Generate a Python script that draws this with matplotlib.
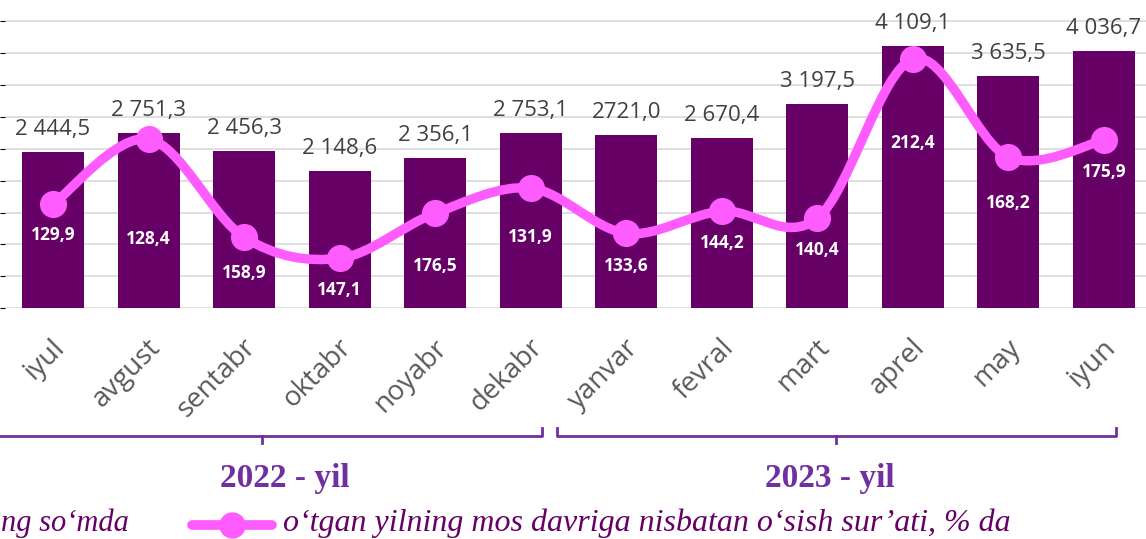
import matplotlib
matplotlib.use("Agg")
import matplotlib.pyplot as plt
import matplotlib.transforms as mtransforms
from matplotlib.path import Path
from matplotlib.patches import PathPatch
from matplotlib.lines import Line2D
import numpy as np

# ---------- data ----------
months = ["iyul", "avgust", "sentabr", "oktabr", "noyabr", "dekabr",
          "yanvar", "fevral", "mart", "aprel", "may", "iyun"]
volume = [2444.5, 2751.3, 2456.3, 2148.6, 2356.1, 2753.1,
          2721.0, 2670.4, 3197.5, 4109.1, 3635.5, 4036.7]
volume_labels = ["2 444,5", "2 751,3", "2 456,3", "2 148,6", "2 356,1", "2 753,1",
                 "2721,0", "2 670,4", "3 197,5", "4 109,1", "3 635,5", "4 036,7"]
# growth line as drawn on its own (hidden) right axis
growth = [120.8, 158.8, 101.5, 89.2, 115.5, 130.1,
          103.8, 116.7, 112.6, 205.5, 148.3, 158.2]
growth_labels = ["129,9", "128,4", "158,9", "147,1", "176,5", "131,9",
                 "133,6", "144,2", "140,4", "212,4", "168,2", "175,9"]
# where the white labels sit, in right-axis units
growth_label_y = [102.7, 100.3, 80.5, 70.5, 84.6, 101.5,
                  84.6, 98.0, 93.9, 156.5, 121.6, 139.5]
years = ["2022 - yil", "2023 - yil"]

bar_col = "#660066"
line_col = "#FF5CFF"
purple = "#7030A0"

fig = plt.figure(figsize=(11.46, 5.39), dpi=100)
W, H = 1146, 539
ax = fig.add_axes([5.25 / W, (H - 308.3) / H, 1146.5 / W, 308.3 / H])
x = np.arange(len(months))

ax.bar(x, volume, width=0.65, color=bar_col, zorder=2)
ax.set_xlim(-0.5, 11.5)
ax.set_ylim(0, 4829)
ax.set_yticks(np.arange(0, 4501, 500))
ax.yaxis.grid(True, color="#D9D9D9", linewidth=1.2, zorder=0)
ax.set_axisbelow(True)
ax.tick_params(left=False, bottom=False, labelleft=False, labelbottom=False)
for s in ax.spines.values():
    s.set_visible(False)

# value labels above bars
above = mtransforms.offset_copy(ax.transData, fig=fig, x=0, y=17, units="dots")
for xi, v, lab in zip(x, volume, volume_labels):
    ax.text(xi, v, lab, transform=above, ha="center", va="baseline",
            fontsize=16, color="#404040", family="Open Sans", clip_on=False)

# month labels, rotated
below = mtransforms.offset_copy(ax.transData, fig=fig, x=8, y=-35, units="dots")
for xi, m in zip(x, months):
    ax.text(xi, 0, m, transform=below, rotation=45, rotation_mode="anchor",
            ha="right", va="center", fontsize=20, color="#595959",
            family="Open Sans", clip_on=False)

# growth line on a hidden secondary axis, smoothed like the office chart
ax2 = ax.twinx()
ax2.set_ylim(60, 240)
ax2.axis("off")
pts = np.column_stack([x, growth]).astype(float)
ext = np.vstack([pts[0], pts, pts[-1]])
verts = [pts[0]]
codes = [Path.MOVETO]
for i in range(len(pts) - 1):
    p0, p1, p2, p3 = ext[i], ext[i + 1], ext[i + 2], ext[i + 3]
    verts += [p1 + (p2 - p0) / 6, p2 - (p3 - p1) / 6, p2]
    codes += [Path.CURVE4] * 3
ax2.add_patch(PathPatch(Path(verts, codes), facecolor="none", edgecolor=line_col,
                        linewidth=6.8, capstyle="round", joinstyle="round", zorder=3))
ax2.plot(x, growth, linestyle="none", marker="o", markersize=18.5,
         color=line_col, zorder=4)
for xi, yl, lab in zip(x, growth_label_y, growth_labels):
    ax2.text(xi, yl, lab, ha="center", va="center", fontsize=12.5,
             fontweight="bold", color="white", family="Open Sans", zorder=5)

# year brackets under the months
btr = mtransforms.blended_transform_factory(ax.transData, fig.transFigure)
yb, yh, yt = 1 - 436 / H, 1 - 428 / H, 1 - 443 / H
brackets = [(-1.0, 5.12, 2.19), (5.28, 11.13, 8.20)]
for (x0, x1, xm), lab in zip(brackets, years):
    ax.add_line(Line2D([x0, x0, x1, x1], [yh, yb, yb, yh], transform=btr,
                       color=purple, linewidth=2.0, solid_joinstyle="round",
                       clip_on=False))
    ax.add_line(Line2D([xm, xm], [yb, yt], transform=btr, color=purple,
                       linewidth=2.0, clip_on=False))
year_x = [2.43, 8.13]
for xx, lab in zip(year_x, years):
    ax.text(xx, 1 - 478 / H, lab, transform=btr, ha="center", va="center",
            fontsize=24, fontweight="bold", color=purple,
            family="Liberation Serif", clip_on=False)

# legend (left item is cut off by the frame in the source)
ly = 1 - 525 / H
base = 1 - 531 / H
fig.text(1 / W, base, "ng so\u2018mda", ha="left", va="baseline",
         fontsize=22, style="italic", color=bar_col, family="Liberation Serif")
fig.add_artist(Line2D([192 / W, 272 / W], [ly, ly], color=line_col,
                      linewidth=7, solid_capstyle="round"))
fig.add_artist(Line2D([232 / W], [ly], color=line_col, marker="o",
                      markersize=18, linestyle="none"))
fig.text(283 / W, base,
         "o\u2018tgan yilning mos davriga nisbatan o\u2018sish sur\u2019ati, % da",
         ha="left", va="baseline", fontsize=23, style="italic", color=bar_col,
         family="Liberation Serif")

fig.savefig("out.png", dpi=100)
